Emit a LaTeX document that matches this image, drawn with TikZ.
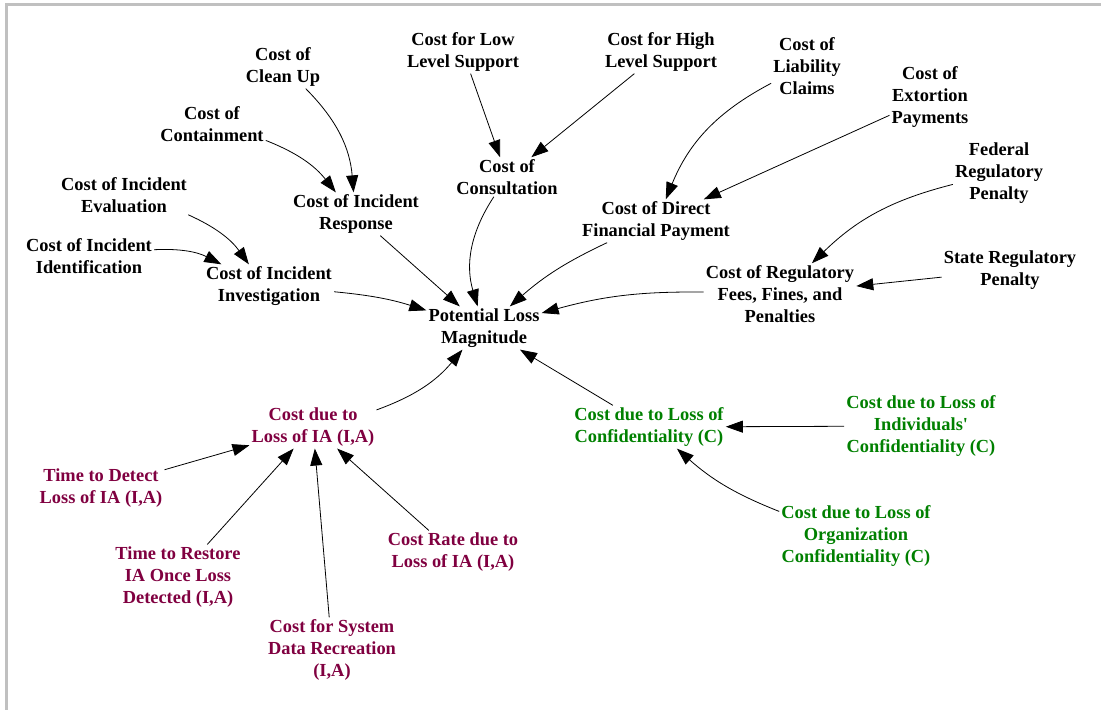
\documentclass[tikz,border=0pt]{standalone}
\usepackage{fontspec}
\setmainfont{Liberation Serif}
\usetikzlibrary{arrows.meta}
\definecolor{iacolor}{RGB}{128,0,64}
\definecolor{confcolor}{RGB}{0,128,0}
\definecolor{framecolor}{RGB}{192,192,192}
\tikzset{
  var/.style={align=center, font=\fontsize{18.4}{22}\selectfont\bfseries, inner sep=2pt},
  iavar/.style={var, text=iacolor},
  confvar/.style={var, text=confcolor},
  flow/.style={-{Triangle[length=17pt, width=12pt]}, line width=0.8pt},
}

\begin{document}
\begin{tikzpicture}[x=1pt, y=1pt]
\useasboundingbox (0,0) rectangle (1101,-710);
\draw[framecolor, line width=3pt] (1101,-4) -- (6,-4) -- (6,-710);
\node[var] (clean) at (283,-67) {Cost of\\Clean Up};
\node[var] (contain) at (212,-124) {Cost of\\Containment};
\node[var] (eval) at (124,-195) {Cost of Incident\\Evaluation};
\node[var] (ident) at (89,-256) {Cost of Incident\\Identification};
\node[var] (invest) at (269,-286) {Cost of Incident\\Investigation};
\node[var] (resp) at (356,-214) {Cost of Incident\\Response};
\node[var] (low) at (463,-52) {Cost for Low\\Level Support};
\node[var] (high) at (661,-52) {Cost for High\\Level Support};
\node[var] (consult) at (507,-177) {Cost of\\Consultation};
\node[var] (liab) at (807,-66) {Cost of\\Liability\\Claims};
\node[var] (extort) at (930,-97) {Cost of\\Extortion\\Payments};
\node[var] (federal) at (999,-173) {Federal\\Regulatory\\Penalty};
\node[var] (direct) at (656,-221) {Cost of Direct\\Financial Payment};
\node[var] (regul) at (780,-294) {Cost of Regulatory\\Fees, Fines, and\\Penalties};
\node[var] (state) at (1010,-270) {State Regulatory\\Penalty};
\node[var] (plm) at (484,-328) {Potential Loss\\Magnitude};
\node[iavar] (ia) at (313,-427) {Cost due to\\Loss of IA (I,A)};
\node[iavar] (detect) at (101,-488) {Time to Detect\\Loss of IA (I,A)};
\node[iavar] (restore) at (178,-577) {Time to Restore\\IA Once Loss\\Detected (I,A)};
\node[iavar] (sysdata) at (332,-650) {Cost for System\\Data Recreation\\(I,A)};
\node[iavar] (rate) at (453,-552) {Cost Rate due to\\Loss of IA (I,A)};
\node[confvar] (conf) at (649,-427) {Cost due to Loss of\\Confidentiality (C)};
\node[confvar] (indiv) at (921,-426) {Cost due to Loss of\\Individuals\textquotesingle\\Confidentiality (C)};
\node[confvar] (org) at (856,-536) {Cost due to Loss of\\Organization\\Confidentiality (C)};
\draw[flow] (clean) to[bend left=20] (resp);
\draw[flow] (contain) to[bend left=15] (resp);
\draw[flow] (eval) to[bend left=15] (invest);
\draw[flow] (ident) to[bend left=15] (invest);
\draw[flow] (invest) to[bend left=6] (plm);
\draw[flow] (resp) -- (plm);
\draw[flow] (consult) to[bend right=25] (plm);
\draw[flow] (low) -- (consult);
\draw[flow] (high) -- (consult);
\draw[flow] (liab) to[bend right=20] (direct);
\draw[flow] (extort) -- (direct);
\draw[flow] (direct) to[bend right=8] (plm);
\draw[flow] (regul) to[bend right=8] (plm);
\draw[flow] (federal) to[bend right=15] (regul);
\draw[flow] (state) -- (regul);
\draw[flow] (ia) to[bend right=15] (plm);
\draw[flow] (conf) -- (plm);
\draw[flow] (detect) -- (ia);
\draw[flow] (restore) -- (ia);
\draw[flow] (sysdata) -- (ia);
\draw[flow] (rate) -- (ia);
\draw[flow] (indiv) -- (conf);
\draw[flow] (org) to[bend left=10] (conf);
\end{tikzpicture}
\end{document}
